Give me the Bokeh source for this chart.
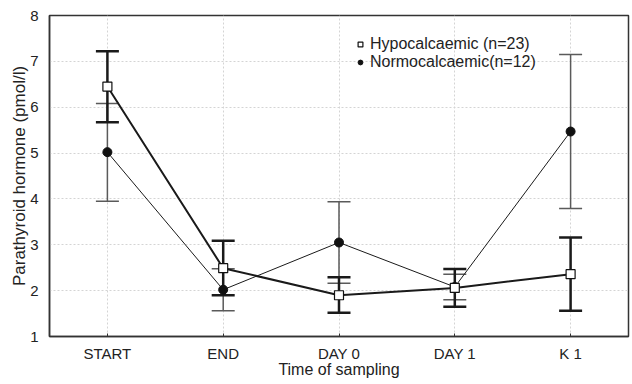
from bokeh.plotting import figure
from bokeh.models import (Whisker, TeeHead, ColumnDataSource, Legend, LegendItem,
                          FactorRange, FixedTicker, Range1d)
from bokeh.embed import file_html
from bokeh.resources import INLINE

times = ["START", "END", "DAY 0", "DAY 1", "K 1"]
hypo_mean = [6.45, 2.49, 1.90, 2.06, 2.36]
hypo_lower = [5.67, 1.90, 1.52, 1.65, 1.56]
hypo_upper = [7.22, 3.09, 2.29, 2.47, 3.16]
normo_mean = [5.02, 2.02, 3.05, 2.08, 5.47]
normo_lower = [3.95, 1.56, 2.16, 1.80, 3.79]
normo_upper = [6.08, 2.48, 3.94, 2.36, 7.15]
yticks = [1, 2, 3, 4, 5, 6, 7, 8]

FONT = "Liberation Sans"
TXT = "#222222"

p = figure(width=630, height=382, x_range=FactorRange(*times), y_range=Range1d(1, 8),
           output_backend="svg", toolbar_location=None,
           min_border_left=49, min_border_right=2, min_border_top=15, min_border_bottom=46)

p.outline_line_color = "#333333"
p.outline_line_width = 1.5
p.background_fill_color = "white"
p.border_fill_color = "white"

for g in (p.xgrid, p.ygrid):
    g.grid_line_color = "#d4d4d4"
    g.grid_line_dash = "2 2"
    g.grid_line_width = 1
p.ygrid.ticker = FixedTicker(ticks=yticks)
p.yaxis.ticker = FixedTicker(ticks=yticks)

for ax in (p.xaxis, p.yaxis):
    ax.axis_line_color = "#333333"
    ax.axis_line_width = 1.5
    ax.major_label_text_font = FONT
    ax.major_label_text_font_size = "15px"
    ax.major_label_text_color = TXT
    ax.axis_label_text_font = FONT
    ax.axis_label_text_font_style = "normal"
    ax.axis_label_text_color = TXT
    ax.minor_tick_line_color = None

p.yaxis.axis_label_text_font_size = "17px"
p.xaxis.axis_label_text_font_size = "16px"
p.xaxis.major_tick_in = 3
p.xaxis.major_tick_out = 0
p.xaxis.major_tick_line_color = "#333333"
p.yaxis.major_tick_line_color = None
p.xaxis.major_label_standoff = 8
p.yaxis.major_label_standoff = 5
p.xaxis.axis_label = "Time of sampling"
p.yaxis.axis_label = "Parathyroid hormone (pmol/l)"
p.xaxis.axis_label_standoff = -4
p.yaxis.axis_label_standoff = -2

src_n = ColumnDataSource(dict(x=times, y=normo_mean, lo=normo_lower, hi=normo_upper))
src_h = ColumnDataSource(dict(x=times, y=hypo_mean, lo=hypo_lower, hi=hypo_upper))

# Normocalcaemic (thin)
wn = Whisker(base="x", upper="hi", lower="lo", source=src_n,
             line_color="#5a5a5a", line_width=1.5,
             upper_head=TeeHead(size=23, line_color="#5a5a5a", line_width=1.5),
             lower_head=TeeHead(size=23, line_color="#5a5a5a", line_width=1.5))
p.add_layout(wn)
p.line("x", "y", source=src_n, line_color="#1a1a1a", line_width=1)

# Hypocalcaemic (thick)
wh = Whisker(base="x", upper="hi", lower="lo", source=src_h,
             line_color="#1a1a1a", line_width=2.5,
             upper_head=TeeHead(size=23, line_color="#1a1a1a", line_width=2.5),
             lower_head=TeeHead(size=23, line_color="#1a1a1a", line_width=2.5))
p.add_layout(wh)
p.line("x", "y", source=src_h, line_color="#1a1a1a", line_width=2)

rn = p.scatter("x", "y", source=src_n, marker="circle", size=9,
               fill_color="#111111", line_color="#111111")
rh = p.scatter("x", "y", source=src_h, marker="square", size=9,
               fill_color="white", line_color="#111111", line_width=1.2)

legend = Legend(items=[LegendItem(label="Hypocalcaemic (n=23)", renderers=[rh]),
                       LegendItem(label="Normocalcaemic(n=12)", renderers=[rn])],
                location=(305, 265), orientation="vertical",
                padding=0, spacing=0, margin=0,
                label_height=16, glyph_height=16, glyph_width=12,
                label_standoff=4,
                label_text_font=FONT, label_text_font_size="16px",
                label_text_color=TXT,
                border_line_color=None, background_fill_alpha=0)
p.add_layout(legend)

open("out.html", "w").write(file_html(p, INLINE))
